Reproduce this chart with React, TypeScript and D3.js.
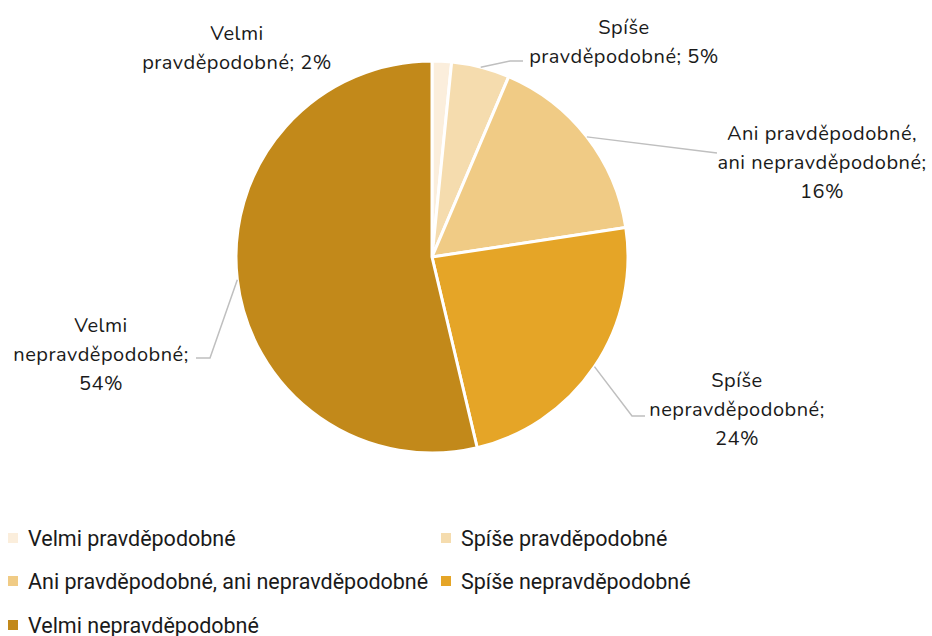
import React from "react";
import * as d3 from "d3";

const categories = [
  "Velmi pravděpodobné",
  "Spíše pravděpodobné",
  "Ani pravděpodobné, ani nepravděpodobné",
  "Spíše nepravděpodobné",
  "Velmi nepravděpodobné",
];
const values = [1.6, 4.8, 16.2, 23.7, 53.7];
const labelLines = [
  ["Velmi", "pravděpodobné; 2%"],
  ["Spíše", "pravděpodobné; 5%"],
  ["Ani pravděpodobné,", "ani nepravděpodobné;", "16%"],
  ["Spíše", "nepravděpodobné;", "24%"],
  ["Velmi", "nepravděpodobné;", "54%"],
];
const colors = ["#FBEEDC", "#F5DCAE", "#F0CB85", "#E5A527", "#C2891A"];

// layout (not data)
const W = 932, H = 636;
const cx = 432, cy = 257, R = 196;
const labelLayout = [
  { x: 237, y: 40, line: null as null | number[][] },
  { x: 624, y: 34, line: [[510, 61], [523, 61]] },
  { x: 822, y: 140, line: [[717, 153], [717, 153]] },
  { x: 737, y: 387, line: [[632, 416], [645, 416]] },
  { x: 101, y: 332, line: [[210, 358], [196, 358]] },
];
const legendLayout = [
  { x: 8, y: 538 },
  { x: 441, y: 538 },
  { x: 8, y: 581 },
  { x: 441, y: 581 },
  { x: 8, y: 625 },
];

export default function App() {
  const pie = d3.pie<number>().sort(null).value((d) => d);
  const arcs = pie(values);
  const arc = d3.arc<d3.PieArcDatum<number>>().innerRadius(0).outerRadius(R);
  const labelFont = "Nunito, 'Open Sans', sans-serif";
  return (
    <svg width={W} height={H} style={{ position: "absolute", left: 0, top: 0, background: "#fff" }}>
      <g transform={`translate(${cx},${cy})`}>
        {arcs.map((a, i) => (
          <path key={i} d={arc(a) || ""} fill={colors[i]} stroke="#fff" strokeWidth={3} strokeLinejoin="round" />
        ))}
      </g>
      {arcs.map((a, i) => {
        const L = labelLayout[i];
        if (!L.line) return null;
        const mid = (a.startAngle + a.endAngle) / 2;
        const sx = cx + R * Math.sin(mid);
        const sy = cy - R * Math.cos(mid);
        const pts = [[sx, sy], ...L.line];
        return (
          <polyline key={"l" + i} points={pts.map((p) => p.join(",")).join(" ")} fill="none" stroke="#BFBFBF" strokeWidth={1.5} />
        );
      })}
      {labelLines.map((lines, i) => (
        <text key={"t" + i} x={labelLayout[i].x} y={labelLayout[i].y} textAnchor="middle" fontFamily={labelFont} fontSize={20} letterSpacing={0.5} fill="#1a1a1a">
          {lines.map((ln, j) => (
            <tspan key={j} x={labelLayout[i].x} dy={j === 0 ? 0 : 29}>{ln}</tspan>
          ))}
        </text>
      ))}
      {categories.map((c, i) => (
        <g key={"lg" + i}>
          <rect x={legendLayout[i].x} y={legendLayout[i].y - 5} width={10} height={10} fill={colors[i]} />
          <text x={legendLayout[i].x + 20} y={legendLayout[i].y} dy="0.35em" fontFamily="Roboto, sans-serif" fontSize={21.5} fill="#1a1a1a">{c}</text>
        </g>
      ))}
    </svg>
  );
}
